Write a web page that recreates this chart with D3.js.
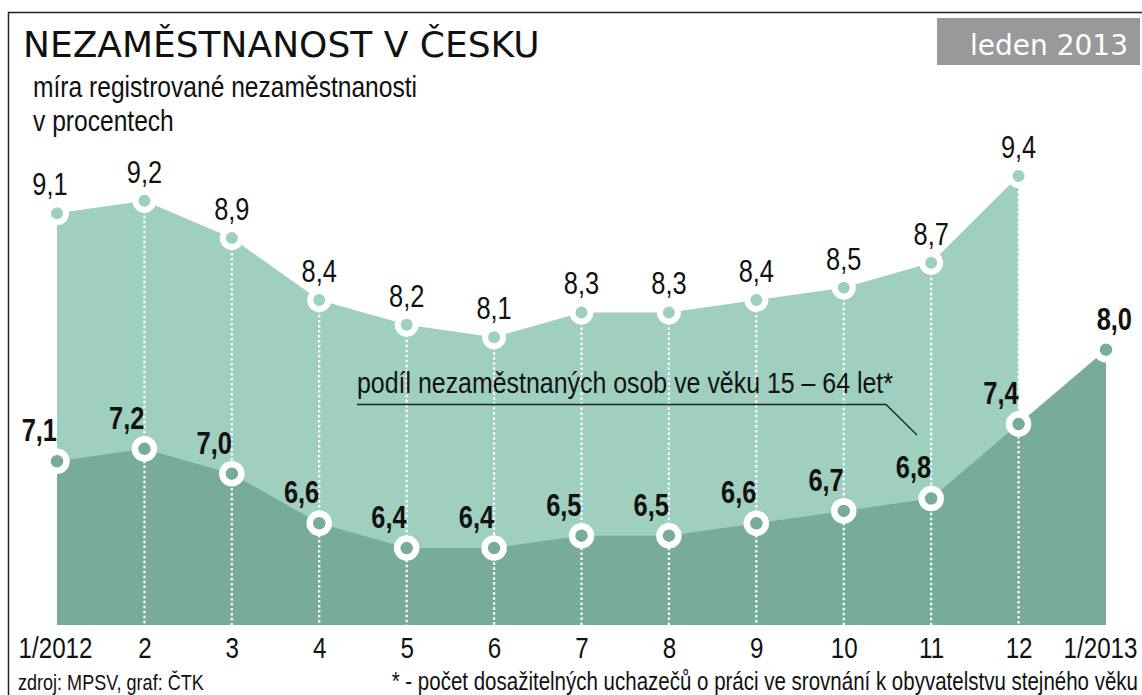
<!DOCTYPE html>
<html><head><meta charset="utf-8">
<script src="https://cdn.jsdelivr.net/npm/d3@7"></script>
<style>html,body{margin:0;padding:0;background:#fff;}svg{display:block;}</style>
</head><body>
<svg id="chart" width="1142" height="695"></svg>
<script>
const months = ["1/2012","2","3","4","5","6","7","8","9","10","11","12","1/2013"];
const registeredRate = [9.1,9.2,8.9,8.4,8.2,8.1,8.3,8.3,8.4,8.5,8.7,9.4];
const unemployedShare = [7.1,7.2,7.0,6.6,6.4,6.4,6.5,6.5,6.6,6.7,6.8,7.4,8.0];
const titleText = "NEZAMĚSTNANOST V ČESKU";
const subtitleLines = ["míra registrované nezaměstnanosti","v procentech"];
const badgeText = "leden 2013";
const annotationText = "podíl nezaměstnaných osob ve věku 15 – 64 let*";
const sourceText = "zdroj: MPSV, graf: ČTK";
const footnoteText = "* - počet dosažitelných uchazečů o práci ve srovnání k obyvatelstvu stejného věku";

const fmt = v => d3.format(".1f")(v).replace(".", ",");
const SANS = "'Liberation Sans',Arial,sans-serif";
const NX = 0.82; // narrow (condensed) horizontal factor
const LIGHT = "#9ecfbf", DARK = "#78ac99";

const svg = d3.select("#chart");
const x = d3.scalePoint().domain(months).range([57, 1106]);
const y = d3.scaleLinear().domain([5.78, 9.4]).range([625, 176]);
const baseY = y(5.78);

const upper = registeredRate.map((v,i)=>({m:months[i], v}));
const lower = unemployedShare.map((v,i)=>({m:months[i], v}));

function narrow(sel, fx, fy){
  return sel.attr("x",0).attr("y",0)
    .attr("transform",(d,i)=>`translate(${typeof fx==="function"?fx(d,i):fx},${typeof fy==="function"?fy(d,i):fy}) scale(${NX},1)`)
    .attr("font-family",SANS).attr("fill","#111");
}

// frame
svg.append("line").attr("x1",8).attr("x2",1142).attr("y1",12.5).attr("y2",12.5).attr("stroke","#222").attr("stroke-width",1.5);
svg.append("line").attr("x1",8.5).attr("x2",8.5).attr("y1",12).attr("y2",695).attr("stroke","#222").attr("stroke-width",1.5);

// areas
const area = d3.area().x(d=>x(d.m)).y0(baseY).y1(d=>y(d.v));
svg.append("path").datum(upper).attr("d",area).attr("fill",LIGHT);
svg.append("path").datum(lower).attr("d",area).attr("fill",DARK);

// dotted guides
svg.append("g").selectAll("line").data(upper.slice(1)).join("line")
  .attr("x1",d=>x(d.m)).attr("x2",d=>x(d.m))
  .attr("y1",d=>y(d.v)).attr("y2",baseY)
  .attr("stroke","#fff").attr("stroke-width",2.2).attr("stroke-dasharray","2.5,2.5");

// markers
svg.append("g").selectAll("circle").data(upper).join("circle")
  .attr("cx",d=>x(d.m)).attr("cy",d=>y(d.v)).attr("r",9)
  .attr("fill",LIGHT).attr("stroke","#fff").attr("stroke-width",6);
svg.append("g").selectAll("circle").data(lower).join("circle")
  .attr("cx",d=>x(d.m)).attr("cy",d=>y(d.v)).attr("r",9.5)
  .attr("fill",DARK).attr("stroke","#fff").attr("stroke-width",6.5);

// value labels
narrow(svg.append("g").selectAll("text").data(upper).join("text"),
  (d,i)=>x(d.m) + (i===0?-7:0), d=>y(d.v)-18)
  .attr("text-anchor","middle").attr("font-size",31)
  .text(d=>fmt(d.v));
narrow(svg.append("g").selectAll("text").data(lower).join("text"),
  (d,i)=>i===lower.length-1 ? x(d.m)+26 : x(d.m), d=>y(d.v)-20)
  .attr("text-anchor","end").attr("font-weight","bold").attr("font-size",31)
  .text(d=>fmt(d.v));

// x axis labels
const xAxis = d3.axisBottom(x).tickSize(0).tickPadding(0);
const ax = svg.append("g").attr("transform",`translate(0,${baseY})`).call(xAxis);
ax.select(".domain").remove();
ax.selectAll("text").attr("dy",null)
  .attr("x",0).attr("y",0)
  .attr("transform",(d,i)=>`translate(${i===months.length-1?-6:(i===0?-2:0)},33) scale(${NX},1)`)
  .attr("font-family",SANS).attr("font-size",29.5).attr("fill","#111");

// annotation
narrow(svg.append("text"),357,393).attr("font-size",30.4).text(annotationText);
svg.append("path").attr("d","M357,404.5 L886,404.5 L917,435").attr("fill","none").attr("stroke","#222").attr("stroke-width",1.3);

// title
svg.append("text").attr("x",23).attr("y",57).attr("font-family","'DejaVu Sans',Verdana,sans-serif").attr("font-size",36).attr("fill","#111").text(titleText);
narrow(svg.append("g").selectAll("text").data(subtitleLines).join("text"),33,(d,i)=>97+i*34)
  .attr("font-size",30).text(d=>d);

// badge
svg.append("rect").attr("x",937).attr("y",18).attr("width",203).attr("height",47).attr("fill","#999");
svg.append("text").attr("x",1128).attr("y",55).attr("text-anchor","end").attr("font-family","'DejaVu Sans',sans-serif").attr("font-size",28).attr("fill","#fff").text(badgeText);

// footer
narrow(svg.append("text"),18,690).attr("font-size",22).text(sourceText);
narrow(svg.append("text"),1138,690).attr("text-anchor","end").attr("font-size",25).text(footnoteText);
</script>
</body></html>
